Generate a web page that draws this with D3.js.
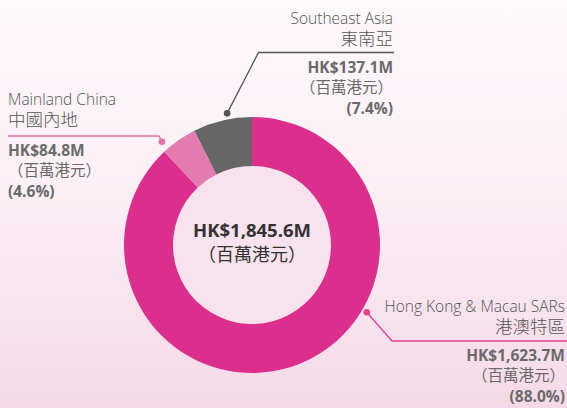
<!DOCTYPE html>
<html>
<head>
<meta charset="utf-8">
<script src="https://cdn.jsdelivr.net/npm/d3@7"></script>
<style>
  html, body { margin: 0; padding: 0; }
  body { width: 567px; height: 408px; overflow: hidden; }
  text { font-family: "Open Sans", "Noto Sans CJK TC", sans-serif; }
</style>
</head>
<body>
<script>
// data
const regionsEn = ["Hong Kong & Macau SARs", "Mainland China", "Southeast Asia"];
const regionsZh = ["港澳特區", "中國內地", "東南亞"];
const amounts = [1623.7, 84.8, 137.1];
const shares = [88.0, 4.6, 7.4];
const totalAmount = 1845.6;
const unitZh = "（百萬港元）";

const width = 567, height = 408;
const cx = 252, cy = 245;
const outerR = 128, innerR = 79;

const colors = ["#dc2e8c", "#e47bb0", "#666666"];
const lineColors = ["#e0408f", "#e66fa8", "#555555"];
// where along each slice the leader dot sits (0..1 of the slice)
const dotAt = [0.38, 0.13, 0.6];

const fmt = d3.format(",.1f");

var svg = d3.select("body")
    .append("svg")
    .attr("width", width)
    .attr("height", height);

let grad = svg.append("defs")
    .append("linearGradient")
    .attr("id", "bg")
    .attr("x1", 0).attr("y1", 0)
    .attr("x2", 0).attr("y2", 1);
grad.append("stop").attr("offset", "0%").attr("stop-color", "#fdf8fb");
grad.append("stop").attr("offset", "45%").attr("stop-color", "#fbf0f5");
grad.append("stop").attr("offset", "100%").attr("stop-color", "#f5d9e7");

svg.append("rect")
    .attr("width", width)
    .attr("height", height)
    .attr("fill", "url(#bg)");

let pie = d3.pie().sort(null).value(d => d);
let arcs = pie(amounts);

let arc = d3.arc().innerRadius(innerR).outerRadius(outerR);

let chart = svg.append("g")
    .attr("transform", `translate(${cx},${cy})`);

chart.append("circle")
    .attr("r", innerR)
    .attr("fill", "#f8e2ed");

chart.selectAll("path.slice")
    .data(arcs)
    .enter()
    .append("path")
    .attr("class", "slice")
    .attr("d", arc)
    .attr("fill", (d, i) => colors[i]);

// centre total
chart.append("text")
    .attr("text-anchor", "middle")
    .attr("y", -8)
    .attr("font-size", 18.5)
    .attr("font-weight", 700)
    .attr("fill", "#333")
    .text("HK$" + fmt(totalAmount) + "M");
chart.append("text")
    .attr("text-anchor", "middle")
    .attr("y", 16)
    .attr("font-size", 18)
    .attr("fill", "#333")
    .style("font-family", "'Noto Sans CJK TC', sans-serif")
    .text(unitZh);

// leader dot positions from the arcs
function dotPos(i, extra) {
    let a = arcs[i].startAngle + (arcs[i].endAngle - arcs[i].startAngle) * dotAt[i];
    let r = outerR + extra;
    return [cx + r * Math.sin(a), cy - r * Math.cos(a)];
}

// label layout: x anchor, alignment, baseline of first line, rule y, rule x-extent
const labelLayout = [
    { x: 565, anchor: "end", y0: 312, ruleY: 341, ruleX: [392, 567] },
    { x: 8, anchor: "start", y0: 105, ruleY: 136, ruleX: [8, 159] },
    { x: 393, anchor: "end", y0: 24, ruleY: 52.5, ruleX: [258.5, 394] }
];

let labels = svg.append("g");

arcs.forEach((d, i) => {
    let L = labelLayout[i];
    let p = dotPos(i, i == 0 ? 5 : (i == 1 ? 9 : 6));
    let g = labels.append("g");

    // leader: from dot to rule corner, then along rule
    let corner = L.anchor == "end" ? L.ruleX[0] : L.ruleX[1];
    g.append("polyline")
        .attr("points", [[p[0], p[1]], [corner, L.ruleY], L.anchor == "end" ? [L.ruleX[1], L.ruleY] : [L.ruleX[0], L.ruleY]].map(q => q.join(",")).join(" "))
        .attr("fill", "none")
        .attr("stroke", lineColors[i])
        .attr("stroke-width", 1.3);
    g.append("circle")
        .attr("cx", p[0])
        .attr("cy", p[1])
        .attr("r", 3.3)
        .attr("fill", lineColors[i]);

    let lines = [
        { t: regionsEn[i], y: L.y0, w: 300, c: "#555", f: "'Open Sans', sans-serif", s: 15.5 },
        { t: regionsZh[i], y: L.y0 + 21, w: 300, c: "#555", f: "'Noto Sans CJK TC', sans-serif", s: 17.5 },
        { t: "HK$" + fmt(amounts[i]) + "M", y: L.ruleY + 20, w: 700, c: "#6a6a6a", f: "'Open Sans', sans-serif", s: 15.5 },
        { t: unitZh, y: L.ruleY + 40, w: 400, c: "#6a6a6a", f: "'Noto Sans CJK TC', sans-serif", s: 15.5 },
        { t: "(" + shares[i].toFixed(1) + "%)", y: L.ruleY + 61, w: 700, c: "#6a6a6a", f: "'Open Sans', sans-serif", s: 15.5 }
    ];

    g.selectAll("text")
        .data(lines)
        .enter()
        .append("text")
        .attr("x", L.x)
        .attr("y", l => l.y)
        .attr("text-anchor", L.anchor)
        .attr("font-size", l => l.s)
        .attr("font-weight", l => l.w)
        .attr("fill", l => l.c)
        .style("font-family", l => l.f)
        .text(l => l.t);
});
</script>
</body>
</html>
